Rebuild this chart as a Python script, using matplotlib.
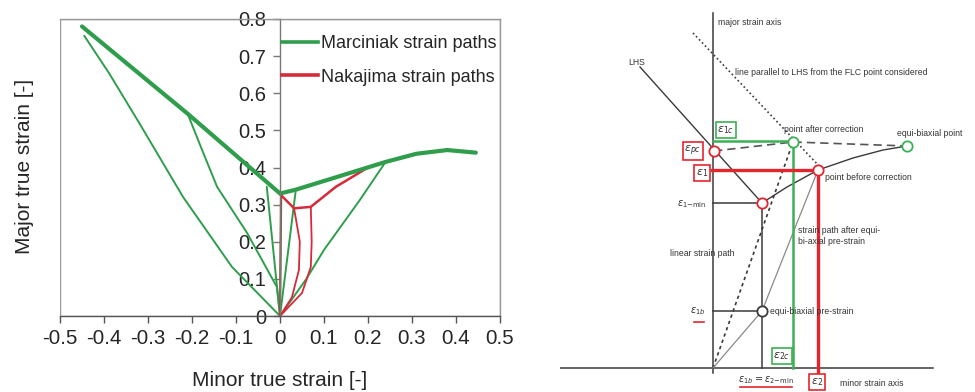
import matplotlib
matplotlib.use('Agg')
import matplotlib.pyplot as plt
from matplotlib.lines import Line2D
from matplotlib.patches import Rectangle

plt.rcParams['font.family'] = ['Liberation Sans', 'DejaVu Sans']
plt.rcParams['axes.unicode_minus'] = False

GREEN = '#2f9e4c'
RED = '#d62a3a'
GREEN2 = '#3cb055'
RED2 = '#e3262e'
DARK = '#3a3a3a'
TXT = '#262626'

# ---- left panel data (minor / major true strain) ----
marc_flc_x = [-0.45, -0.21, 0.0, 0.035, 0.12, 0.24, 0.31, 0.38, 0.445]
marc_flc_y = [0.78, 0.545, 0.33, 0.34, 0.371, 0.415, 0.437, 0.447, 0.44]

marc_paths_x = [[0, -0.109, -0.22, -0.32, -0.389, -0.445],
                [0, -0.007, -0.075, -0.143, -0.177, -0.21],
                [0, -0.03],
                [0, 0.003],
                [0, 0.036],
                [0, 0.06, 0.1, 0.18, 0.24]]
marc_paths_y = [[0, 0.132, 0.32, 0.52, 0.655, 0.755],
                [0, 0.078, 0.224, 0.348, 0.447, 0.545],
                [0, 0.348],
                [0, 0.33],
                [0, 0.34],
                [0, 0.1, 0.178, 0.31, 0.415]]

nak_flc_x = [0.002, 0.032, 0.07, 0.127, 0.2]
nak_flc_y = [0.326, 0.29, 0.294, 0.348, 0.4]

nak_paths_x = [[0, 0.027, 0.043, 0.045, 0.032],
               [0, 0.05, 0.07, 0.072, 0.07],
               [0, 0.002]]
nak_paths_y = [[0, 0.05, 0.124, 0.2, 0.29],
               [0, 0.062, 0.132, 0.2, 0.294],
               [0, 0.326]]

x_ticks = [-0.5, -0.4, -0.3, -0.2, -0.1, 0, 0.1, 0.2, 0.3, 0.4, 0.5]
x_ticklabels = ['-0.5', '-0.4', '-0.3', '-0.2', '-0.1', '0', '0.1', '0.2', '0.3', '0.4', '0.5']
y_ticks = [0, 0.1, 0.2, 0.3, 0.4, 0.5, 0.6, 0.7, 0.8]
y_ticklabels = ['0', '0.1', '0.2', '0.3', '0.4', '0.5', '0.6', '0.7', '0.8']

# ---- right panel schematic (units: origin at the axes crossing) ----
lhs_x = [-73, 49]
lhs_y = [301, 165]
parallel_x = [-20, 107]
parallel_y = [335, 201]
linear_path_x = [0, 80]
linear_path_y = [0, 226]
prestrain_path_x = [0, 49, 105]
prestrain_path_y = [0, 57, 198]
flc_curve_x = [49, 74, 105, 140, 170, 194]
flc_curve_y = [165, 181, 198, 210, 218, 222]
dashed_x = [1, 80, 194]
dashed_y = [217, 226, 222]
eps_pc = (1, 217)
eps_1min = (49, 165)
before_corr = (105, 198)
after_corr = (80, 226)
equi_point = (194, 222)
pre_strain = (49, 57)

fig = plt.figure(figsize=(9.75, 3.92), dpi=100)

# ================= left panel =================
ax = fig.add_axes([60 / 975, 76 / 392, 440 / 975, 297 / 392])
for px, py in zip(marc_paths_x, marc_paths_y):
    ax.plot(px, py, color=GREEN, lw=1.4, solid_capstyle='round')
for px, py in zip(nak_paths_x, nak_paths_y):
    ax.plot(px, py, color=RED, lw=1.3, solid_capstyle='round')
ax.plot(nak_flc_x, nak_flc_y, color=RED, lw=1.8, solid_joinstyle='miter')
ax.plot(marc_flc_x, marc_flc_y, color=GREEN, lw=3.0, solid_capstyle='round')

ax.set_xlim(-0.5, 0.5)
ax.set_ylim(0, 0.8)
ax.spines['left'].set_position(('data', 0))
ax.spines['left'].set_color('#777777')
ax.spines['bottom'].set_color('#555555')
ax.spines['top'].set_color('#999999')
ax.spines['right'].set_color('#999999')
for s in ax.spines.values():
    s.set_linewidth(1.0)
ax.add_patch(Rectangle((0, 0), 1, 1, transform=ax.transAxes, fill=False,
                       edgecolor='#999999', lw=1.0, zorder=0))
ax.set_xticks(x_ticks)
ax.set_xticklabels(x_ticklabels)
ax.set_yticks(y_ticks)
ax.set_yticklabels(y_ticklabels)
ax.tick_params(axis='x', direction='out', length=5, width=1, color='#555555',
               labelsize=14.8, labelcolor=TXT, pad=4)
ax.tick_params(axis='y', direction='out', length=5, width=1, color='#777777',
               labelsize=14.5, labelcolor=TXT, pad=5)
for lab in ax.get_yticklabels():
    lab.set_zorder(5)

fig.text(280 / 975, 1 - 380 / 392, 'Minor true strain [-]', fontsize=15,
         color=TXT, ha='center', va='center')
fig.text(25 / 975, 1 - 166 / 392, 'Major true strain [-]', fontsize=15,
         color=TXT, ha='center', va='center', rotation=90)

handles = [Line2D([0], [0], color=GREEN, lw=2.6, label='Marciniak strain paths'),
           Line2D([0], [0], color=RED, lw=2.6, label='Nakajima strain paths')]
ax.legend(handles=handles, loc='upper left', bbox_to_anchor=(0.505, 0.945),
          frameon=False, fontsize=13, handlelength=2.0, handletextpad=0.15,
          labelspacing=0.9, borderaxespad=0, borderpad=0, labelcolor=TXT)

# ================= right panel =================
ax2 = fig.add_axes([560 / 975, 0, 415 / 975, 1])
ax2.set_xlim(-153, 262)
ax2.set_ylim(-24, 368)
ax2.axis('off')

# axes of the schematic
ax2.plot([-153, 220], [0, 0], color=DARK, lw=1.1)
ax2.plot([0, 0], [-5, 355], color=DARK, lw=1.1)

ax2.plot(lhs_x, lhs_y, color=DARK, lw=1.0)
ax2.plot(parallel_x, parallel_y, color=DARK, lw=1.2, ls=(0, (1, 1.6)))
ax2.plot(linear_path_x, linear_path_y, color=DARK, lw=1.2, ls=(0, (2, 2)))
ax2.plot(prestrain_path_x, prestrain_path_y, color='#8a8a8a', lw=0.9)
ax2.plot(flc_curve_x, flc_curve_y, color=DARK, lw=1.0)
ax2.plot(dashed_x, dashed_y, color='#555555', lw=1.2, ls=(0, (5, 3)))

# construction lines
ax2.plot([eps_1min[0], eps_1min[0]], [0, eps_1min[1]], color=DARK, lw=1.1)
ax2.plot([0, eps_1min[0]], [eps_1min[1], eps_1min[1]], color=DARK, lw=1.1)
ax2.plot([0, pre_strain[0]], [pre_strain[1], pre_strain[1]], color=DARK, lw=1.1)
ax2.plot([after_corr[0], after_corr[0]], [0, after_corr[1]], color=GREEN2, lw=1.8)
ax2.plot([0, after_corr[0]], [after_corr[1] + 1, after_corr[1] + 1], color=GREEN2, lw=1.8)
ax2.plot([before_corr[0], before_corr[0]], [-5, before_corr[1]], color=RED2, lw=2.4)
ax2.plot([-1, before_corr[0]], [before_corr[1], before_corr[1]], color=RED2, lw=2.4)

# points
for (cx, cy), ec in [(eps_pc, RED2), (eps_1min, RED2), (before_corr, RED2),
                     (after_corr, GREEN2), (equi_point, GREEN2), (pre_strain, DARK)]:
    ax2.scatter([cx], [cy], s=55, facecolor='white', edgecolor=ec, linewidth=1.3, zorder=5)

small = dict(fontsize=6.2, color='#333333', va='center')
ax2.text(5, 346, 'major strain axis', ha='left', **small)
ax2.text(-76, 306, 'LHS', ha='center', **small)
ax2.text(22, 296, 'line parallel to LHS from the FLC point considered', ha='left', **small)
ax2.text(71, 239, 'point after correction', ha='left', **small)
ax2.text(184, 235, 'equi-biaxial point', ha='left', **small)
ax2.text(112, 191, 'point before correction', ha='left', **small)
ax2.text(85, 138, 'strain path after equi-', ha='left', **small)
ax2.text(85, 126, 'bi-axial pre-strain', ha='left', **small)
ax2.text(-43, 115, 'linear strain path', ha='left', **small)
ax2.text(57, 56, 'equi-biaxial pre-strain', ha='left', **small)
ax2.text(127, -15, 'minor strain axis', ha='left', **small)
ax2.text(-6, 164, r'$\varepsilon_{1\mathrm{-min}}$', ha='right', fontsize=7, color='#333333', va='center')
ax2.text(-15, 57, r'$\varepsilon_{1b}$', ha='center', fontsize=7, color='#333333', va='center')
ax2.plot([-19, -9], [46, 46], color=RED2, lw=1.2)
ax2.text(53, -12, r'$\varepsilon_{1b}=\varepsilon_{2\mathrm{-min}}$', ha='center', fontsize=7,
         color='#333333', va='center')
ax2.plot([27, 79], [-19, -19], color=RED2, lw=1.2)

box = dict(fontsize=8, color='#333333', ha='center', va='center')
ax2.text(13, 238, r'$\varepsilon_{1c}$', bbox=dict(boxstyle='square,pad=0.15', fc='white', ec=GREEN2, lw=1.2), **box)
ax2.text(69, 12, r'$\varepsilon_{2c}$', bbox=dict(boxstyle='square,pad=0.15', fc='white', ec=GREEN2, lw=1.2), **box)
ax2.text(-20, 217, r'$\varepsilon_{pc}$', bbox=dict(boxstyle='square,pad=0.15', fc='white', ec=RED2, lw=1.2), **box)
ax2.text(-11, 195, r'$\varepsilon_{1}$', bbox=dict(boxstyle='square,pad=0.2', fc='white', ec=RED2, lw=1.2), **box)
ax2.text(104, -14, r'$\varepsilon_{2}$', bbox=dict(boxstyle='square,pad=0.2', fc='white', ec=RED2, lw=1.2), **box)

fig.savefig('out.png', dpi=100)
